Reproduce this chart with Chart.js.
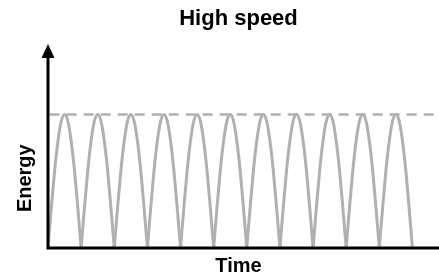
<!DOCTYPE html>
<html>
<head>
<meta charset="utf-8">
<script src="https://cdn.jsdelivr.net/npm/chart.js@4"></script>
<style>
  html, body { margin: 0; padding: 0; background: #fff; }
  #wrap { width: 439px; height: 278px; }
</style>
</head>
<body>
<div id="wrap"><canvas id="chart"></canvas></div>
<script>
const chartTitle = 'High speed';
const xLabel = 'Time';
const yLabel = 'Energy';

// one cycle: offset in the cycle -> energy
const archTime = [0, 0.1, 0.2, 0.3, 0.4, 0.5, 0.6, 0.7, 0.8, 0.9, 1];
const archEnergy = [0, 0.3, 0.58, 0.8, 0.95, 1, 0.95, 0.8, 0.58, 0.3, 0];

// where each cycle starts on the time axis
const cycleStarts = [0, 1, 2, 3, 4, 5, 6, 7, 8, 9, 10];

// dashed line at the peak level
const peakLevel = 1;
const peakLineTime = [0.05, 11.8];

const timeMax = 11.5;
const energyMax = 1.045;

const curveColor = '#b0b0b0';
const fontFamily = '"Liberation Sans", Arial, Helvetica, sans-serif';

const datasets = cycleStarts.map(start => ({
  data: archTime.map((t, i) => ({ x: start + t, y: archEnergy[i] })),
  borderColor: curveColor,
  borderWidth: 3,
  pointRadius: 0,
  cubicInterpolationMode: 'monotone',
  fill: false
}));

datasets.unshift({
  data: peakLineTime.map(t => ({ x: t, y: peakLevel })),
  borderColor: curveColor,
  borderWidth: 2.5,
  borderDash: [10, 7],
  pointRadius: 0,
  clip: false,
  fill: false
});

const axesPlugin = {
  id: 'axes',
  afterLayout(chart) {
    // centre the title over the plot, not the whole canvas
    const t = chart.titleBlock;
    t.left = chart.chartArea.left;
    t.right = chart.chartArea.right;
  },
  afterDraw(chart) {
    const { ctx, chartArea: a } = chart;
    ctx.save();
    ctx.strokeStyle = '#000';
    ctx.lineWidth = 3;
    ctx.beginPath();
    ctx.moveTo(a.left - 1.5, a.bottom);
    ctx.lineTo(chart.width, a.bottom);
    ctx.moveTo(a.left, a.bottom);
    ctx.lineTo(a.left, 56);
    ctx.stroke();
    ctx.fillStyle = '#000';
    ctx.beginPath();
    ctx.moveTo(a.left, 44);
    ctx.lineTo(a.left - 6.5, 58);
    ctx.lineTo(a.left + 6.5, 58);
    ctx.closePath();
    ctx.fill();
    ctx.restore();
  }
};

const axisTitleFont = { family: fontFamily, size: 20, weight: 'bold' };

new Chart(document.getElementById('chart'), {
  type: 'line',
  data: { datasets },
  options: {
    responsive: true,
    maintainAspectRatio: false,
    animation: false,
    layout: { padding: { left: 0, right: 10, top: 0, bottom: 0 } },
    scales: {
      x: {
        type: 'linear', min: 0, max: timeMax,
        grid: { display: false, drawTicks: false },
        border: { display: false },
        ticks: { display: false },
        title: { display: true, text: xLabel, color: '#000', font: axisTitleFont, padding: { top: 6, bottom: 0 } }
      },
      y: {
        min: 0, max: energyMax,
        grid: { display: false, drawTicks: false },
        border: { display: false },
        ticks: { display: false },
        title: { display: true, text: yLabel, color: '#000', font: axisTitleFont, padding: { top: 13, bottom: 11 } }
      }
    },
    plugins: {
      legend: { display: false },
      tooltip: { enabled: false },
      title: {
        display: true, text: chartTitle, color: '#000',
        font: { family: fontFamily, size: 22, weight: 'bold' },
        padding: { top: 6, bottom: 76 }
      }
    }
  },
  plugins: [axesPlugin]
});
</script>
</body>
</html>
